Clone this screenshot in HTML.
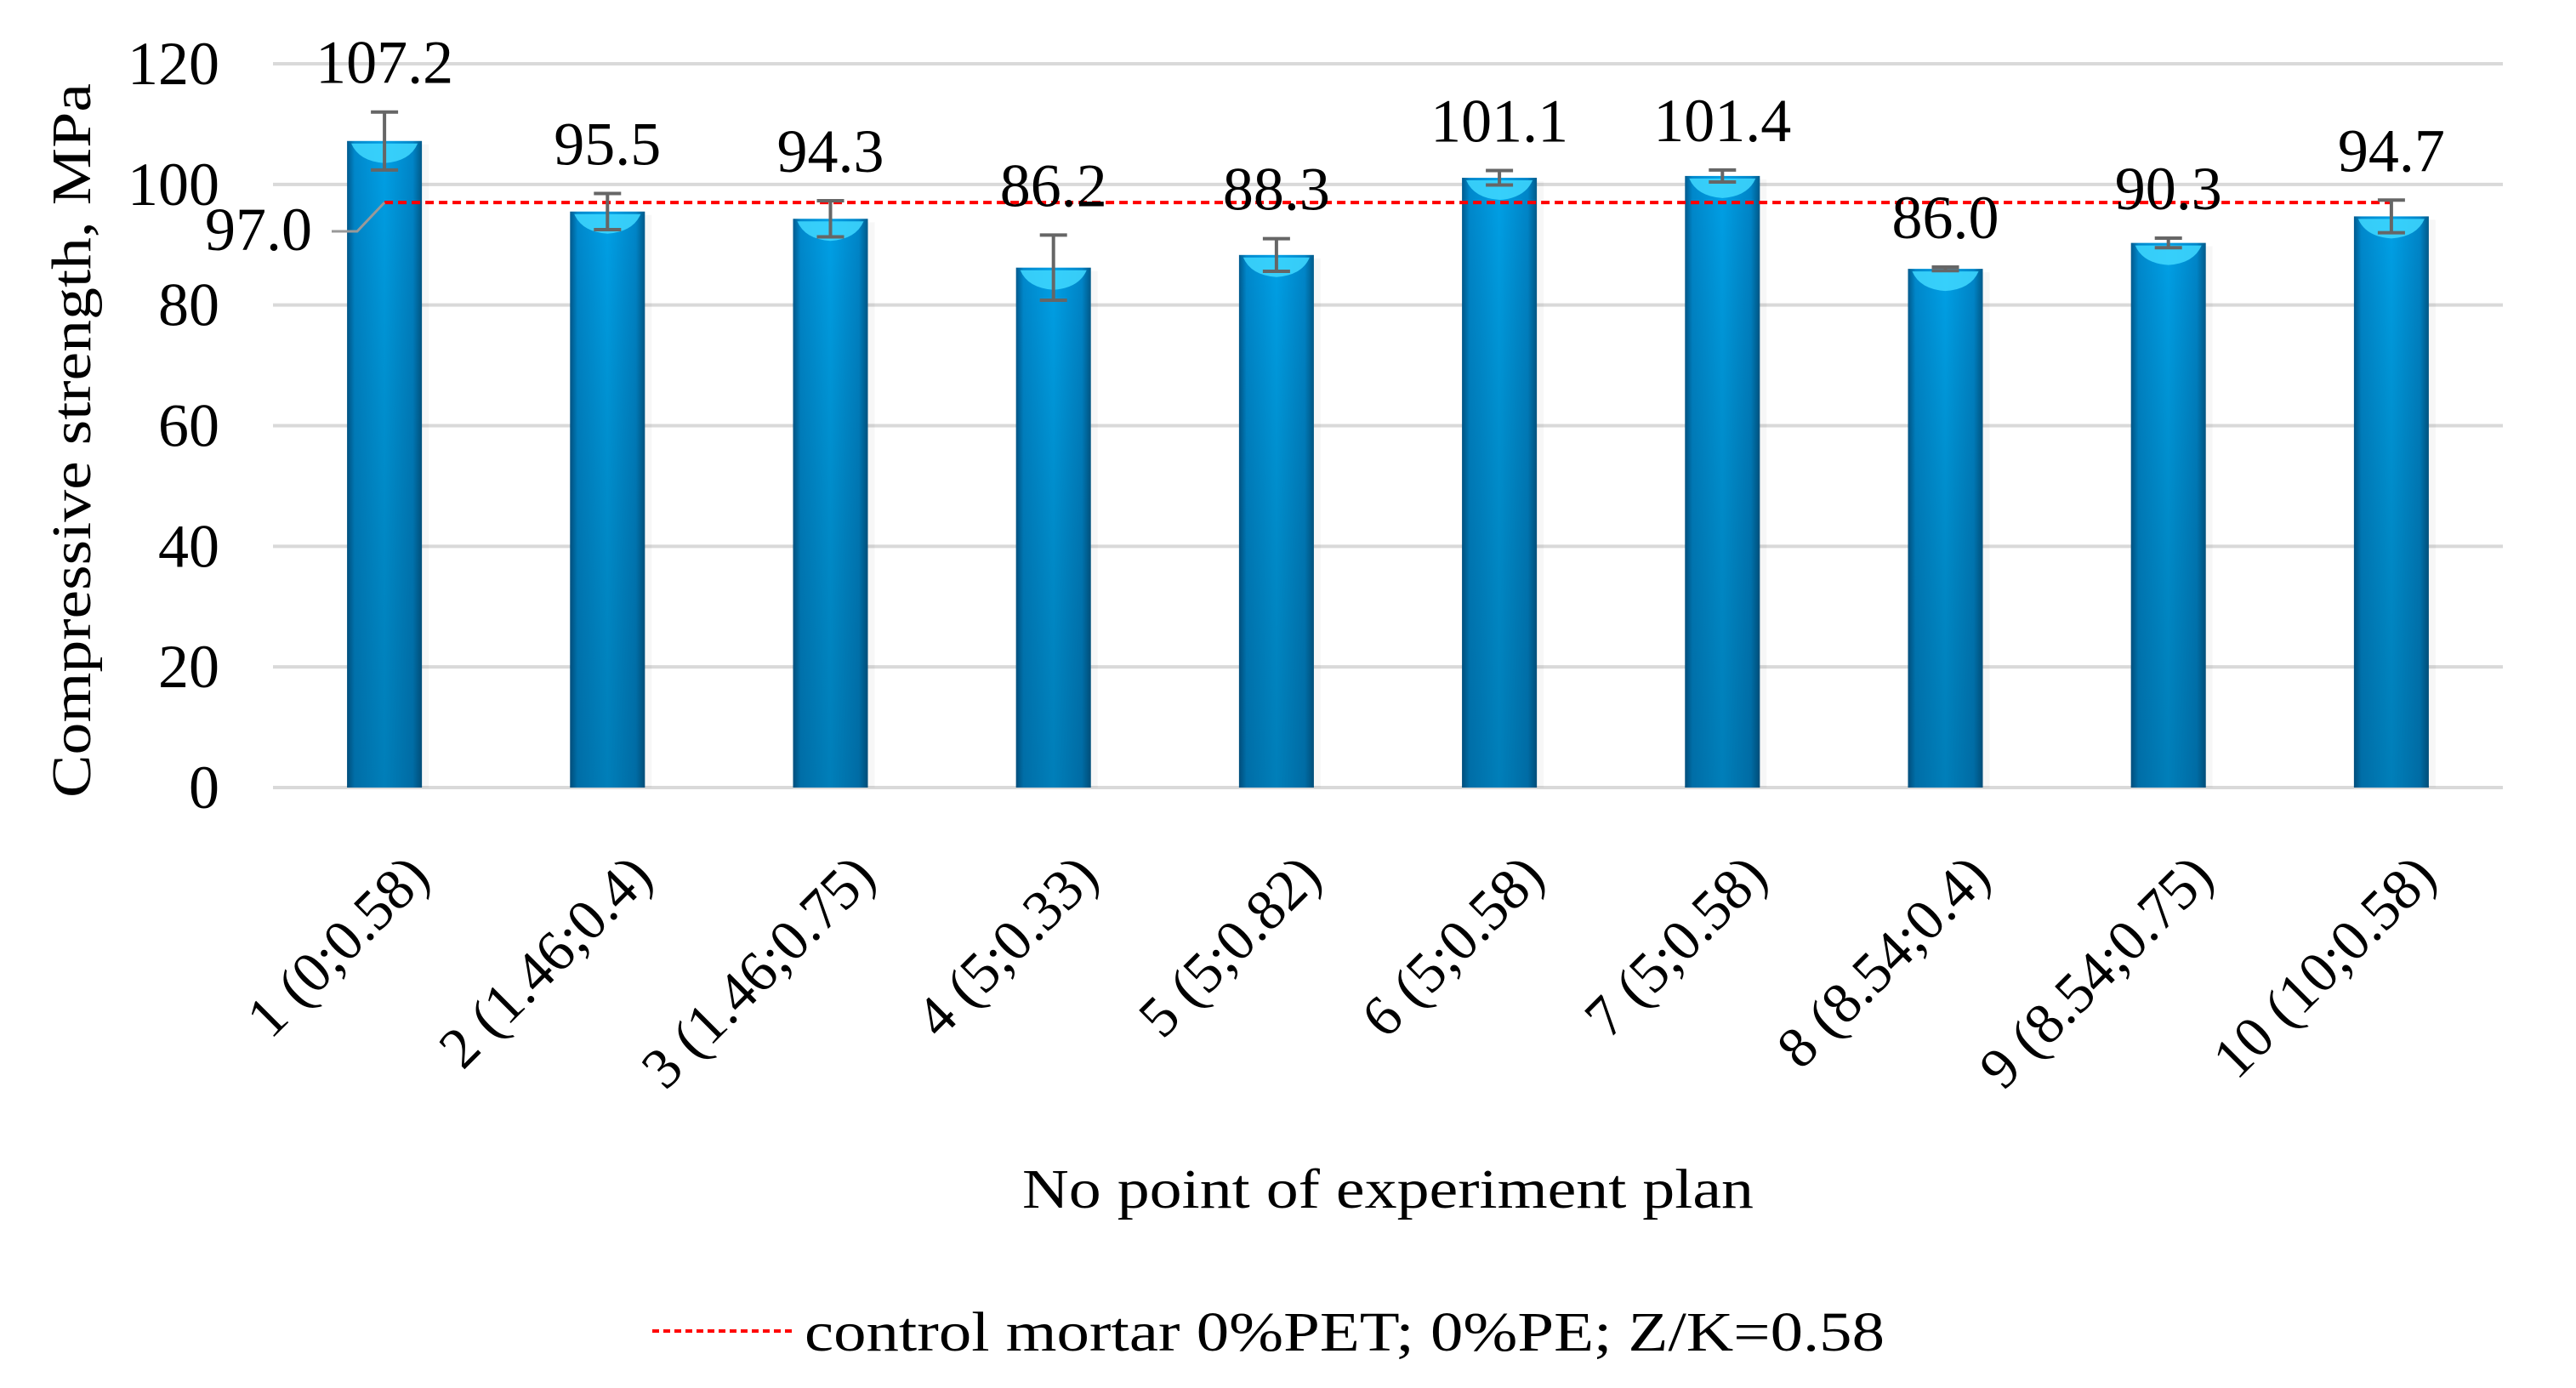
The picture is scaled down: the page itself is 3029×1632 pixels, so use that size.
<!DOCTYPE html>
<html><head><meta charset="utf-8"><style>
html,body{margin:0;padding:0;background:#fff;}
svg{display:block;font-family:"Liberation Serif",serif;}
</style></head><body>
<svg id="chart" width="3029" height="1632" viewBox="0 0 3029 1632">
<defs>
<linearGradient id="barGrad" x1="0" y1="0" x2="1" y2="0">
<stop offset="0" stop-color="#005a8e"/><stop offset="0.1" stop-color="#0088cc"/>
<stop offset="0.5" stop-color="#00a0e6"/><stop offset="0.88" stop-color="#0085c8"/>
<stop offset="1" stop-color="#005a8a"/></linearGradient>
<linearGradient id="barV" x1="0" y1="0" x2="0" y2="1">
<stop offset="0" stop-color="#000" stop-opacity="0"/><stop offset="1" stop-color="#003050" stop-opacity="0.3"/></linearGradient>
</defs>
<g id="grid"></g>
<g id="yticks"></g>
<g id="bars"></g>
<g id="ctrl"></g>
<g id="errs"></g>
<g id="labels"></g>
<g id="xticks"></g>
<text transform="translate(106,518) rotate(-90)" text-anchor="middle" font-size="66" textLength="840" lengthAdjust="spacingAndGlyphs">Compressive  strength,  MPa</text>
<text x="1632" y="1420" text-anchor="middle" font-size="66" textLength="860" lengthAdjust="spacingAndGlyphs">No point  of  experiment  plan</text>
<g>
<line x1="767" y1="1565" x2="933" y2="1565" stroke="#f00" stroke-width="4" stroke-dasharray="8,5"/>
<text x="946" y="1588" font-size="66" textLength="1270" lengthAdjust="spacingAndGlyphs">control mortar 0%PET; 0%PE; Z/K=0.58</text>
</g>
</svg>
<script>
const categories=["1 (0;0.58)","2 (1.46;0.4)","3 (1.46;0.75)","4 (5;0.33)","5 (5;0.82)","6 (5;0.58)","7 (5;0.58)","8 (8.54;0.4)","9 (8.54;0.75)","10 (10;0.58)"];
const values=[107.2,95.5,94.3,86.2,88.3,101.1,101.4,86.0,90.3,94.7];
const errors=[4.8,3.0,3.0,5.4,2.7,1.2,1.0,0.3,0.8,2.7];
const valueLabels=["107.2","95.5","94.3","86.2","88.3","101.1","101.4","86.0","90.3","94.7"];
const yTicks=[0,20,40,60,80,100,120];
const controlValue=97.0;
const controlLabel="97.0";
const NS="http://www.w3.org/2000/svg";
const L=321,R=2943,T=75,B=926,yMax=120;
const y=v=>B-(v/yMax)*(B-T);
const band=(R-L)/categories.length;
const xc=i=>L+band*(i+0.5);
const bw=88;
function mk(tag,attrs,parent,txt){const e=document.createElementNS(NS,tag);for(const k in attrs)e.setAttribute(k,attrs[k]);if(txt!==undefined)e.textContent=txt;parent.appendChild(e);return e;}
const g=id=>document.getElementById(id);
yTicks.forEach(t=>{
 const ln=mk('line',{x1:L,x2:R,y1:y(t),y2:y(t),stroke:'#d9d9d9','stroke-width':4},g('grid'));
 
 
 const tx=mk('text',{x:258,y:y(t)+24,'text-anchor':'end','font-size':72},g('yticks'),String(t));
 
 
});
values.forEach((v,i)=>{
 const x0=xc(i)-bw/2, top=y(v);
 const grp=mk('g',{},g('bars'));
 
 
 mk('rect',{x:x0+4,y:top+4,width:bw+4,height:B-top-4,fill:'#000',opacity:0.03},grp);
 mk('rect',{x:x0,y:top,width:bw,height:B-top,fill:'url(#barGrad)'},grp);
 mk('rect',{x:x0,y:top,width:bw,height:B-top,fill:'url(#barV)'},grp);
 mk('path',{d:`M${x0+5},${top+3} L${x0+bw-5},${top+3} Q${x0+bw-14},${top+24} ${x0+bw/2},${top+26} Q${x0+14},${top+24} ${x0+5},${top+3}Z`,fill:'#40d8ff',opacity:0.85},grp);
 const e=errors[i], cx=xc(i);
 const eg=mk('g',{stroke:'#666','stroke-width':4},g('errs'));
 
 
 mk('line',{x1:cx,x2:cx,y1:y(v+e),y2:y(v-e)},eg);
 mk('line',{x1:cx-16,x2:cx+16,y1:y(v+e),y2:y(v+e)},eg);
 mk('line',{x1:cx-16,x2:cx+16,y1:y(v-e),y2:y(v-e)},eg);
 const lb=mk('text',{x:cx,y:y(v+e)-34,'text-anchor':'middle','font-size':72},g('labels'),valueLabels[i]);
 
 
 const tk=mk('text',{transform:`translate(${cx+22},${1000}) rotate(-45)`,'text-anchor':'end','font-size':68,dy:'0.7em'},g('xticks'),categories[i]);
 
 
});
const cl=mk('line',{x1:xc(0),x2:xc(values.length-1),y1:y(controlValue),y2:y(controlValue),stroke:'#f00','stroke-width':4,'stroke-dasharray':'10,6'},g('ctrl'));


const ll=mk('polyline',{points:`${390},${272} ${420},${272} ${xc(0)},${y(controlValue)}`,fill:'none',stroke:'#999','stroke-width':3},g('ctrl'));


const ct=mk('text',{x:367,y:294,'text-anchor':'end','font-size':72},g('ctrl'),controlLabel);


</script>
</body></html>
